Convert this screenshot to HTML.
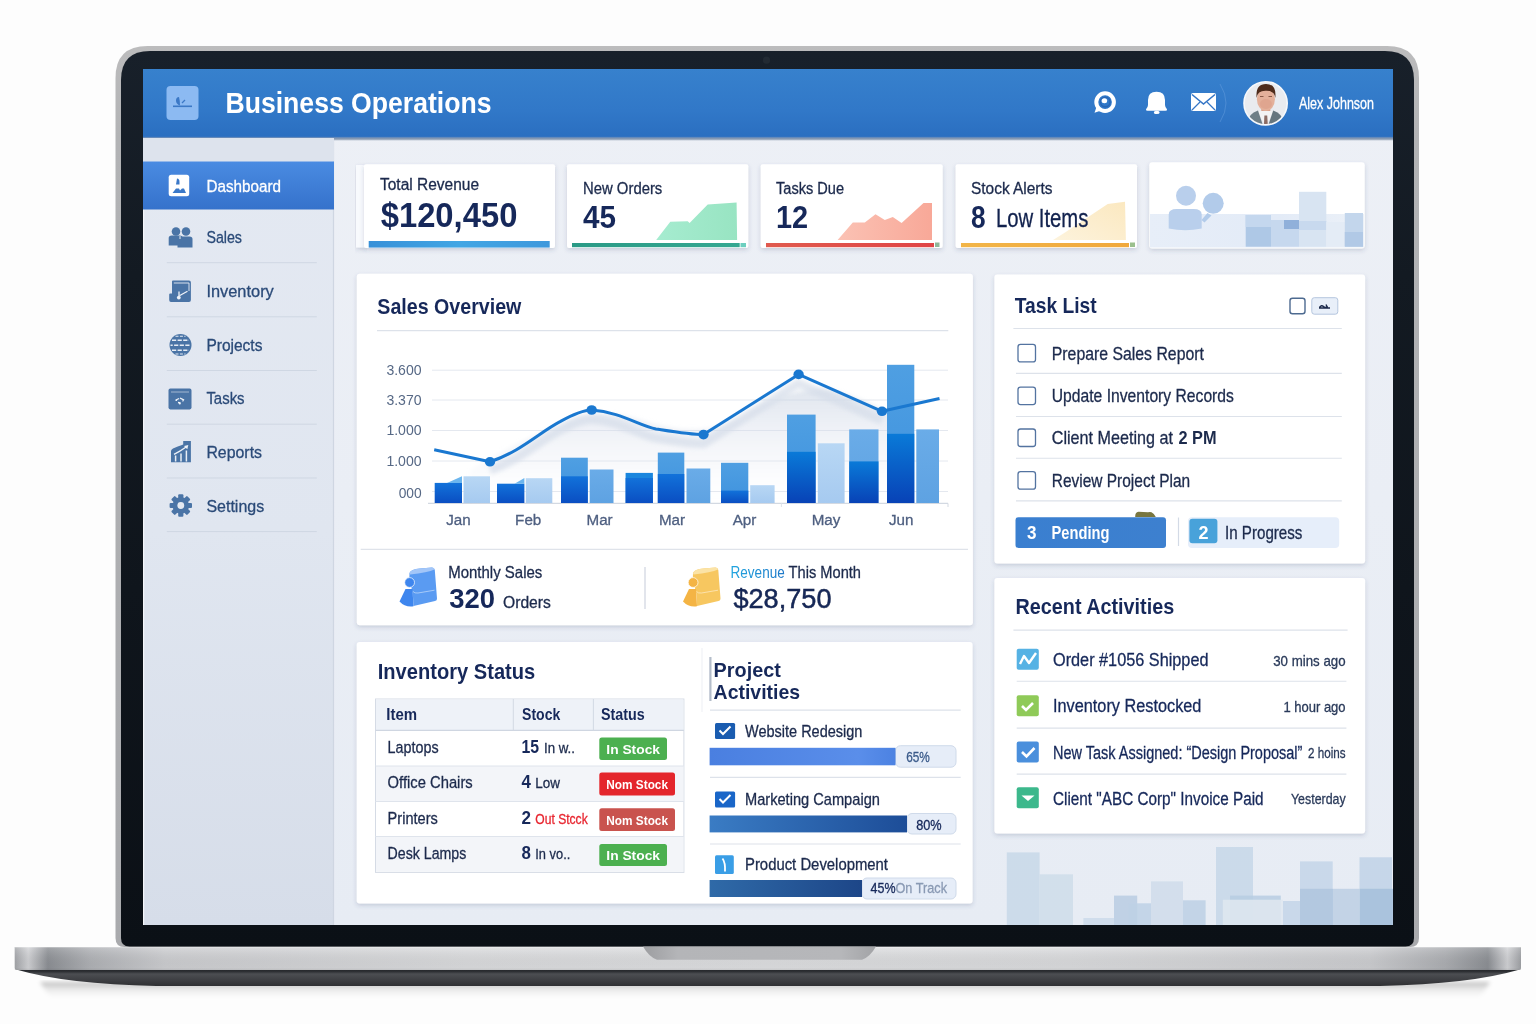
<!DOCTYPE html>
<html><head><meta charset="utf-8"><title>Business Operations</title>
<style>
html,body{margin:0;padding:0;background:#fdfdfd;}
body{width:1536px;height:1024px;overflow:hidden;}
svg text{font-family:"Liberation Sans",sans-serif;}
</style></head>
<body>
<svg width="1536" height="1024" viewBox="0 0 1536 1024" style="display:block;will-change:transform">
<rect width="1536" height="1024" fill="#fdfdfd"/>
<defs>
<linearGradient id="gHeader" x1="0" y1="0" x2="0" y2="1">
  <stop offset="0" stop-color="#3781cd"/><stop offset="0.6" stop-color="#3178c8"/><stop offset="1" stop-color="#2a6ec0"/>
</linearGradient>
<linearGradient id="gActive" x1="0" y1="0" x2="0" y2="1">
  <stop offset="0" stop-color="#4a8be2"/><stop offset="1" stop-color="#3572cb"/>
</linearGradient>
<linearGradient id="gSide" x1="0" y1="0" x2="0" y2="1">
  <stop offset="0" stop-color="#e4e9f2"/><stop offset="0.5" stop-color="#e0e6f0"/><stop offset="1" stop-color="#d6dde9"/>
</linearGradient>
<linearGradient id="gMain" x1="0" y1="0" x2="0" y2="1">
  <stop offset="0" stop-color="#edf0f6"/><stop offset="1" stop-color="#e7ecf4"/>
</linearGradient>
<linearGradient id="gBase" x1="0" y1="0" x2="1" y2="0">
  <stop offset="0" stop-color="#a4a6aa"/><stop offset="0.009" stop-color="#d2d3d6"/><stop offset="0.022" stop-color="#8d9095"/>
  <stop offset="0.05" stop-color="#b0b2b6"/><stop offset="0.1" stop-color="#cdced1"/><stop offset="0.3" stop-color="#dbdcde"/><stop offset="0.5" stop-color="#dedfe1"/>
  <stop offset="0.7" stop-color="#dbdcde"/><stop offset="0.9" stop-color="#cdced1"/><stop offset="0.95" stop-color="#adafb3"/><stop offset="0.978" stop-color="#8d9095"/>
  <stop offset="0.991" stop-color="#d2d3d6"/><stop offset="1" stop-color="#a0a2a6"/>
</linearGradient>
<linearGradient id="gBaseV" x1="0" y1="0" x2="0" y2="1">
  <stop offset="0" stop-color="#ffffff" stop-opacity="0.5"/><stop offset="0.06" stop-color="#ffffff" stop-opacity="0.15"/><stop offset="0.9" stop-color="#000" stop-opacity="0.04"/><stop offset="1" stop-color="#000" stop-opacity="0.1"/>
</linearGradient>
<linearGradient id="gBottom" x1="0" y1="0" x2="0" y2="1">
  <stop offset="0" stop-color="#26282c"/><stop offset="0.1" stop-color="#2e3034"/><stop offset="0.25" stop-color="#4c4e52"/><stop offset="1" stop-color="#2f3033"/>
</linearGradient>
<linearGradient id="gNotch" x1="0" y1="0" x2="1" y2="0">
  <stop offset="0" stop-color="#9c9da0"/><stop offset="0.15" stop-color="#b4b5b8"/><stop offset="0.85" stop-color="#b6b7ba"/><stop offset="1" stop-color="#a2a3a6"/>
</linearGradient>
<linearGradient id="gBezel" x1="0" y1="0" x2="0" y2="1">
  <stop offset="0" stop-color="#18202a"/><stop offset="0.25" stop-color="#131a22"/><stop offset="0.6" stop-color="#0f151c"/><stop offset="1" stop-color="#0b1016"/>
</linearGradient>
<linearGradient id="gRim" x1="0" y1="0" x2="0" y2="1">
  <stop offset="0" stop-color="#bcbcbd"/><stop offset="0.1" stop-color="#b2b3b5"/><stop offset="1" stop-color="#a9aaad"/>
</linearGradient>
<radialGradient id="gShadow" cx="0.5" cy="0.5" r="0.5">
  <stop offset="0" stop-color="#000" stop-opacity="0.25"/><stop offset="1" stop-color="#000" stop-opacity="0"/>
</radialGradient>
<filter id="fCard" x="-5%" y="-5%" width="110%" height="115%">
  <feDropShadow dx="0" dy="2" stdDeviation="2" flood-color="#30456e" flood-opacity="0.2"/>
</filter>
<filter id="fBlur05"><feGaussianBlur stdDeviation="0.6"/></filter>
<filter id="fBlur2"><feGaussianBlur stdDeviation="2"/></filter>
<filter id="fBlur4"><feGaussianBlur stdDeviation="4"/></filter>
</defs>
<defs><linearGradient id="gShd" x1="0" y1="0" x2="0" y2="1"><stop offset="0" stop-color="#000" stop-opacity="0.26"/><stop offset="0.45" stop-color="#000" stop-opacity="0.08"/><stop offset="1" stop-color="#000" stop-opacity="0"/></linearGradient></defs>
<path d="M40 982 H1490 L1480 997 H50 Z" fill="url(#gShd)" filter="url(#fBlur2)"/>
<path d="M115.5 938 V78 Q115.5 46 147.5 46 H1387 Q1419 46 1419 78 V938 Q1419 947 1410 947 H124.5 Q115.5 947 115.5 938 Z" fill="url(#gRim)"/>
<path d="M121 938 V80 Q121 51 150 51 H1385 Q1414 51 1414 80 V938 Q1414 946.5 1405.5 946.5 H129.5 Q121 946.5 121 938 Z" fill="url(#gBezel)"/>
<circle cx="766.5" cy="60.2" r="3.6" fill="#222a33"/>
<path d="M14.7 947 H1521 V968 Q1521 970 1519 970 H16.7 Q14.7 970 14.7 968 Z" fill="url(#gBase)"/>
<path d="M14.7 947 H1521 V970 H14.7 Z" fill="url(#gBaseV)"/>
<path d="M18 970 H1518 Q1470 984 1380 986 H156 Q66 984 18 970 Z" fill="url(#gBottom)"/>
<path d="M643 946.5 H876 Q870 957 862 959.8 H657 Q649 957 643 946.5 Z" fill="url(#gNotch)"/>
<svg x="143" y="69" width="1250" height="856" viewBox="143 69 1250 856" overflow="hidden">
<rect x="143" y="69" width="1250" height="856" fill="url(#gMain)"/>
<rect x="143" y="138" width="191" height="787" fill="url(#gSide)"/>
<line x1="333.5" y1="138" x2="333.5" y2="925" stroke="#cfd6e2" stroke-width="1.2"/>
<line x1="143.6" y1="138" x2="143.6" y2="925" stroke="#f4f6fa" stroke-width="1.2"/>
<rect x="143" y="69" width="1250" height="69" fill="url(#gHeader)"/>
<defs><linearGradient id="gHB" x1="0" y1="0" x2="0" y2="1"><stop offset="0" stop-color="#4f80bf"/><stop offset="0.5" stop-color="#8799b2"/><stop offset="1" stop-color="#b8c2d0"/></linearGradient></defs>
<rect x="143" y="136.8" width="1250" height="3.6" fill="url(#gHB)"/>
<rect x="166.5" y="86" width="32" height="34" rx="4" fill="#8cbaf2"/>
<path d="M179 97 q-3 0 -3 3.5 q0 3.5 4 5 q0 -5 -1 -8.5 Z" fill="#3b78c6"/>
<path d="M182 103 l3 -3" stroke="#3b78c6" stroke-width="1.2"/>
<rect x="173" y="105.5" width="19" height="1.6" fill="#3b78c6"/>
<text x="225.5" y="113" font-size="29" font-weight="bold" fill="#ffffff" textLength="266" lengthAdjust="spacingAndGlyphs">Business Operations</text>
<circle cx="1105.1" cy="102.1" r="8.8" fill="none" stroke="#fff" stroke-width="4"/>
<path d="M1097 105.5 L1094.5 112.8 L1102 110.2 Z" fill="#fff"/>
<circle cx="1105.3" cy="102" r="4.8" fill="none" stroke="#2a66b4" stroke-width="1.4"/>
<ellipse cx="1104.4" cy="100.7" rx="2.8" ry="2.5" fill="#fff"/>
<path d="M1148 100 Q1148 91.7 1156.5 91.7 Q1165 91.7 1165 100 V105 Q1165 107 1167 109.3 Q1167.3 110.8 1165.5 110.8 H1147.5 Q1145.8 110.8 1146 109.3 Q1148 107 1148 105 Z" fill="#fff"/>
<ellipse cx="1156.8" cy="112.4" rx="2.9" ry="1.7" fill="#fff"/>
<rect x="1191" y="93" width="25" height="18" rx="2" fill="#fff"/>
<path d="M1192 94.5 L1203.5 104 L1215 94.5" fill="none" stroke="#3576c6" stroke-width="1.6"/>
<path d="M1192 110 L1200 102 M1215 110 L1207 102" fill="none" stroke="#3576c6" stroke-width="1.2"/>
<path d="M1220 84 Q1232 103 1220 122" fill="none" stroke="#6aa0e0" stroke-width="0.8" opacity="0.6"/>
<circle cx="1265.6" cy="103.3" r="21.6" fill="#e9ebef" stroke="#f6f8fb" stroke-width="1.6"/>
<clipPath id="cAv"><circle cx="1265.6" cy="103.3" r="20.8"/></clipPath>
<g clip-path="url(#cAv)"><rect x="1261.3" y="105" width="9" height="10" fill="#d8a088"/><path d="M1257 111 L1265.6 126 L1274.2 111 Z" fill="#f3f3f3"/><path d="M1246 127 Q1247 114 1258 110.5 L1263.5 127 Z" fill="#6e7e86"/><path d="M1285 127 Q1284 114 1273.2 110.5 L1267.7 127 Z" fill="#66767e"/><path d="M1264.4 115.5 L1267.2 115.5 L1268 127 L1263.8 127 Z" fill="#8c6c64"/><ellipse cx="1265.9" cy="99.3" rx="9" ry="11.6" fill="#e4b09a"/><ellipse cx="1265.9" cy="104" rx="6" ry="5" fill="#dc9e88" opacity="0.6"/><path d="M1256.6 98 Q1255.2 84 1266 84 Q1276.8 84 1275.3 98 Q1274.5 90.5 1266 90.8 Q1257.5 90.5 1256.6 98 Z" fill="#4e2c1c"/><path d="M1260 96.5 h3.5 M1268.5 96.5 h3.5" stroke="#8a5a48" stroke-width="1"/></g>
<text x="1299" y="109" font-size="16" fill="#ffffff" textLength="75" lengthAdjust="spacingAndGlyphs" stroke="#ffffff" stroke-width="0.3">Alex Johnson</text>
<rect x="143" y="138" width="191" height="23.5" fill="#dde3ed"/>
<rect x="143" y="161.5" width="191" height="48" fill="url(#gActive)"/>
<rect x="168.7" y="174.8" width="20.5" height="21.5" rx="2.5" fill="#ffffff"/>
<path d="M177 178.5 q2.5 0 2.5 3.5 l0 2.5 h-3.5 Z" fill="#3a78c8"/>
<path d="M172.5 193 l3.5 -4.5 h3 l1 2 l2 -2 h2 l2 4.5 Z" fill="#3a78c8"/>
<text x="206.4" y="191.8" font-size="17.4" fill="#ffffff" textLength="74.6" lengthAdjust="spacingAndGlyphs" stroke="#ffffff" stroke-width="0.3">Dashboard</text>
<text x="206.4" y="243.0" font-size="17.2" fill="#2a4a78" textLength="35.6" lengthAdjust="spacingAndGlyphs" stroke="#2a4a78" stroke-width="0.3">Sales</text>
<text x="206.4" y="297.2" font-size="17.2" fill="#2a4a78" textLength="67.4" lengthAdjust="spacingAndGlyphs" stroke="#2a4a78" stroke-width="0.3">Inventory</text>
<text x="206.4" y="351.1" font-size="17.2" fill="#2a4a78" textLength="56.0" lengthAdjust="spacingAndGlyphs" stroke="#2a4a78" stroke-width="0.3">Projects</text>
<text x="206.4" y="404.4" font-size="17.2" fill="#2a4a78" textLength="38.2" lengthAdjust="spacingAndGlyphs" stroke="#2a4a78" stroke-width="0.3">Tasks</text>
<text x="206.4" y="458.0" font-size="17.2" fill="#2a4a78" textLength="55.6" lengthAdjust="spacingAndGlyphs" stroke="#2a4a78" stroke-width="0.3">Reports</text>
<text x="206.4" y="511.8" font-size="17.2" fill="#2a4a78" textLength="57.8" lengthAdjust="spacingAndGlyphs" stroke="#2a4a78" stroke-width="0.3">Settings</text>
<line x1="166.8" y1="262.7" x2="316.8" y2="262.7" stroke="#cfd7e3" stroke-width="1"/>
<line x1="166.8" y1="316.8" x2="316.8" y2="316.8" stroke="#cfd7e3" stroke-width="1"/>
<line x1="166.8" y1="370.5" x2="316.8" y2="370.5" stroke="#cfd7e3" stroke-width="1"/>
<line x1="166.8" y1="424.2" x2="316.8" y2="424.2" stroke="#cfd7e3" stroke-width="1"/>
<line x1="166.8" y1="478.0" x2="316.8" y2="478.0" stroke="#cfd7e3" stroke-width="1"/>
<line x1="166.8" y1="531.6" x2="316.8" y2="531.6" stroke="#cfd7e3" stroke-width="1"/>
<g fill="#4a74a6"><circle cx="176" cy="231.5" r="4.3"/><circle cx="186" cy="231.5" r="4.3"/><path d="M168.7 238 q0 -2.5 3 -2.5 h8 q3 0 3 2.5 v7.5 h-14 Z"/><path d="M177.5 239 q0 -2.5 3 -2.5 h9 q3 0 3 2.5 v8.5 h-15 Z"/></g>
<path d="M180 236 v3" stroke="#e4e9f1" stroke-width="1"/>
<path d="M173 280.4 H189 Q190.9 280.4 190.9 282.4 V300 Q190.9 302 189 302 H171 Q169.2 302 169.2 300 V294.5 Q169.2 293.5 170.2 293.5 H172 V281.4 Q172 280.4 173 280.4 Z" fill="#4a74a6"/>
<path d="M173.8 283 H189 V291" fill="none" stroke="#e6ecf4" stroke-width="0.9"/>
<path d="M179 291.5 V296 M179.8 295.5 L187.5 291.2" fill="none" stroke="#eef2f8" stroke-width="1.3"/>
<circle cx="178.8" cy="297.6" r="1.9" fill="#eef2f8"/>
<circle cx="180.5" cy="345" r="11" fill="#4a74a6"/>
<g stroke="#e6ecf4" stroke-width="1.5" fill="none"><path d="M172 340.3 H189" stroke-dasharray="4.2 1.4"/><path d="M170.5 345.2 H190.5" stroke-dasharray="4.2 1.4" stroke-dashoffset="2"/><path d="M172 350.2 H189" stroke-dasharray="4.2 1.4"/><path d="M175.5 336.2 H185.5" stroke-dasharray="3 1.4" stroke-width="1.1"/><path d="M175.5 354 H185.5" stroke-dasharray="3 1.4" stroke-width="1.1"/></g>
<rect x="168.5" y="388.6" width="23" height="20.8" rx="1.8" fill="#4a74a6"/>
<path d="M171 392 h18" stroke="#dfe6f0" stroke-width="0.6"/>
<path d="M176 400 l3 -1.5 M180 398 l3.5 1.8 l-1 1.5 M178 402.5 l2.5 0.3" stroke="#eef2f8" stroke-width="1.3" fill="none"/>
<circle cx="176.3" cy="400.2" r="0.9" fill="#eef2f8"/><circle cx="179.8" cy="403.6" r="1" fill="#eef2f8"/>
<path d="M171 462.3 V451 Q171 449.5 173 448.5 Q178 446 182 445 L183.2 444.5 V441.1 H190.9 V462.3 Z" fill="#4a74a6"/>
<path d="M175.6 455.5 V461.5 M181 453.5 V461.5 M186.4 450.5 V461.5" stroke="#e9eef5" stroke-width="1.5"/>
<path d="M174 454.3 Q180 451.5 186.5 446.8" fill="none" stroke="#eef2f8" stroke-width="1.4"/>
<path d="M184 446 L188.3 445 L187.3 449.2 Z" fill="#eef2f8"/>
<g fill="#4a74a6"><rect x="178.20" y="494.30" width="5.2" height="5" rx="1" transform="rotate(0 180.8 505.5)"/><rect x="178.20" y="494.30" width="5.2" height="5" rx="1" transform="rotate(45 180.8 505.5)"/><rect x="178.20" y="494.30" width="5.2" height="5" rx="1" transform="rotate(90 180.8 505.5)"/><rect x="178.20" y="494.30" width="5.2" height="5" rx="1" transform="rotate(135 180.8 505.5)"/><rect x="178.20" y="494.30" width="5.2" height="5" rx="1" transform="rotate(180 180.8 505.5)"/><rect x="178.20" y="494.30" width="5.2" height="5" rx="1" transform="rotate(225 180.8 505.5)"/><rect x="178.20" y="494.30" width="5.2" height="5" rx="1" transform="rotate(270 180.8 505.5)"/><rect x="178.20" y="494.30" width="5.2" height="5" rx="1" transform="rotate(315 180.8 505.5)"/><circle cx="180.8" cy="505.5" r="8.3"/></g>
<circle cx="180.8" cy="505.5" r="3.4" fill="#e4e9f1"/>
<defs>
<linearGradient id="gBlueBar" x1="0" y1="0" x2="1" y2="0"><stop offset="0" stop-color="#3790d8"/><stop offset="0.5" stop-color="#42a6e4"/><stop offset="1" stop-color="#3e98dc"/></linearGradient>
<linearGradient id="gTealBar" x1="0" y1="0" x2="1" y2="0"><stop offset="0" stop-color="#2a9a86"/><stop offset="1" stop-color="#35a892"/></linearGradient>
<linearGradient id="gRedBar" x1="0" y1="0" x2="1" y2="0"><stop offset="0" stop-color="#e05a4e"/><stop offset="1" stop-color="#e04446"/></linearGradient>
<linearGradient id="gYelBar" x1="0" y1="0" x2="1" y2="0"><stop offset="0" stop-color="#f2b548"/><stop offset="1" stop-color="#f0a83c"/></linearGradient>
<linearGradient id="gRedArea" x1="0" y1="0" x2="1" y2="0"><stop offset="0" stop-color="#fbc2b4"/><stop offset="1" stop-color="#f8a898"/></linearGradient>
<linearGradient id="gYelArea" x1="0" y1="1" x2="1" y2="0"><stop offset="0" stop-color="#fdf3dc"/><stop offset="1" stop-color="#fbe8c0"/></linearGradient>
<linearGradient id="gGrnArea" x1="0" y1="0" x2="1" y2="0"><stop offset="0" stop-color="#a6ecd0"/><stop offset="1" stop-color="#98e4c2"/></linearGradient>
</defs>
<rect x="356" y="165" width="10" height="82.5" fill="#f8fafd" filter="url(#fCard)"/>
<rect x="364" y="164.3" width="191" height="83.7" rx="2" fill="#ffffff" filter="url(#fCard)"/>
<rect x="567" y="164.3" width="181.29999999999995" height="83.7" rx="2" fill="#ffffff" filter="url(#fCard)"/>
<rect x="760.7" y="164.3" width="182.0" height="83.7" rx="2" fill="#ffffff" filter="url(#fCard)"/>
<rect x="955.6" y="164.3" width="181.39999999999998" height="83.7" rx="2" fill="#ffffff" filter="url(#fCard)"/>
<text x="380" y="190" font-size="16" fill="#1c2a4c" textLength="99" lengthAdjust="spacingAndGlyphs" stroke="#1c2a4c" stroke-width="0.3">Total Revenue</text>
<text x="380.7" y="227.2" font-size="34.5" font-weight="bold" fill="#16285a" textLength="136.7" lengthAdjust="spacingAndGlyphs">$120,450</text>
<rect x="368.7" y="241" width="181" height="6.6" fill="url(#gBlueBar)"/>
<path d="M656.2 239.9 L670.3 221.7 L687.7 221.2 L689.6 223.1 L707.7 204.4 L736.6 202.5 L737.1 239.9 Z" fill="url(#gGrnArea)"/>
<text x="583" y="193.7" font-size="16" fill="#1c2a4c" textLength="79.3" lengthAdjust="spacingAndGlyphs" stroke="#1c2a4c" stroke-width="0.3">New Orders</text>
<text x="583" y="227.6" font-size="31.5" font-weight="bold" fill="#16285a" textLength="33" lengthAdjust="spacingAndGlyphs">45</text>
<rect x="572" y="243" width="167.7" height="4.2" fill="url(#gTealBar)"/>
<rect x="740.5" y="243" width="5.5" height="4.2" fill="#6ccfbf"/>
<path d="M837.6 239.9 L852.8 222.5 L864.8 222.5 L875.5 214.3 L884.8 219.9 L892.8 216.9 L901.6 223.1 L923.5 203 L932 203 L932 239.9 Z" fill="url(#gRedArea)"/>
<text x="776" y="193.7" font-size="16" fill="#1c2a4c" textLength="68" lengthAdjust="spacingAndGlyphs" stroke="#1c2a4c" stroke-width="0.3">Tasks Due</text>
<text x="776" y="227.6" font-size="31.5" font-weight="bold" fill="#16285a" textLength="32.2" lengthAdjust="spacingAndGlyphs">12</text>
<rect x="766" y="243" width="168" height="4.2" fill="url(#gRedBar)"/>
<rect x="935" y="242.5" width="4.5" height="4.5" fill="#8fb89a"/>
<path d="M1053 239.9 L1065 232.4 L1107.7 203.9 L1125 201.7 L1125.9 239.9 Z" fill="url(#gYelArea)"/>
<text x="971" y="193.7" font-size="16" fill="#1c2a4c" textLength="81.5" lengthAdjust="spacingAndGlyphs" stroke="#1c2a4c" stroke-width="0.3">Stock Alerts</text>
<text x="971.1" y="227.6" font-size="31.3" font-weight="bold" fill="#16285a" textLength="14.6" lengthAdjust="spacingAndGlyphs">8</text>
<text x="995.9" y="227.2" font-size="25.5" fill="#12224e" textLength="92.5" lengthAdjust="spacingAndGlyphs" stroke="#12224e" stroke-width="0.3">Low Items</text>
<rect x="961" y="243" width="168" height="4.2" fill="url(#gYelBar)"/>
<rect x="1130" y="242.5" width="5" height="4.5" fill="#9bc08e"/>
<rect x="1149.3" y="162.3" width="215.4" height="86.1" rx="3" fill="#ffffff" filter="url(#fCard)"/>
<defs><linearGradient id="gC5" x1="0" y1="0" x2="1" y2="0"><stop offset="0" stop-color="#e7eef8"/><stop offset="0.6" stop-color="#e3ebf7"/><stop offset="1" stop-color="#ecf1f8"/></linearGradient></defs>
<rect x="1150" y="214" width="214" height="33.5" fill="url(#gC5)"/>
<g fill="#b9cfec"><circle cx="1186" cy="195.8" r="10"/><path d="M1168.7 214.5 q0 -5.5 8 -5.5 h17 q8 0 8 5.5 v14 q-16.5 3.5 -33 0 Z"/><circle cx="1213.2" cy="203.3" r="10.5" fill="#b2cbea"/><path d="M1201.5 220 l6 -7 l4 2.5 l-7 7 Z" fill="#b2cbea"/></g>
<g><rect x="1245.7" y="215" width="25.3" height="31.7" fill="#aec8e6"/><rect x="1245.7" y="215" width="25.3" height="12" fill="#c4d7ee"/><rect x="1271" y="220" width="28" height="26.7" fill="#c6d8ee"/><rect x="1284" y="220" width="15" height="9" fill="#90b0da"/><rect x="1299" y="191.8" width="27.3" height="54.9" fill="#d8e4f2"/><rect x="1299" y="221" width="27.3" height="9" fill="#c8d9ee"/><rect x="1326.3" y="222" width="18.5" height="24.7" fill="#e4ecf6"/><rect x="1344.8" y="213" width="18.2" height="33.7" fill="#c3d6ec"/><rect x="1344.8" y="232" width="18.2" height="14.7" fill="#b1c9e6"/></g>
<rect x="356.8" y="273.7" width="616.1" height="351.5" rx="3" fill="#ffffff" filter="url(#fCard)"/>
<text x="377.3" y="313.7" font-size="22.2" font-weight="bold" fill="#16285a" textLength="144.1" lengthAdjust="spacingAndGlyphs">Sales Overview</text>
<line x1="377" y1="330.6" x2="948.3" y2="330.6" stroke="#dde2ea" stroke-width="1.2"/>
<line x1="432" y1="370.2" x2="948" y2="370.2" stroke="#e4e8ef" stroke-width="1"/>
<line x1="432" y1="400.0" x2="948" y2="400.0" stroke="#e4e8ef" stroke-width="1"/>
<line x1="432" y1="430.5" x2="948" y2="430.5" stroke="#e4e8ef" stroke-width="1"/>
<line x1="432" y1="461.0" x2="948" y2="461.0" stroke="#e4e8ef" stroke-width="1"/>
<line x1="432" y1="491.5" x2="948" y2="491.5" stroke="#e4e8ef" stroke-width="1"/>
<line x1="428" y1="503.4" x2="948" y2="503.4" stroke="#d3d9e2" stroke-width="1.2"/>
<line x1="948" y1="503.4" x2="948" y2="507" stroke="#d3d9e2" stroke-width="1"/>
<line x1="781.4" y1="503.4" x2="781.4" y2="507" stroke="#dfe3ea" stroke-width="1"/>
<text x="386.4" y="375.2" font-size="14.5" fill="#566885" textLength="35.2" lengthAdjust="spacingAndGlyphs">3.600</text>
<text x="386.4" y="404.8" font-size="14.5" fill="#566885" textLength="35.2" lengthAdjust="spacingAndGlyphs">3.370</text>
<text x="386.4" y="435.0" font-size="14.5" fill="#566885" textLength="35.2" lengthAdjust="spacingAndGlyphs">1.000</text>
<text x="386.4" y="465.7" font-size="14.5" fill="#566885" textLength="35.2" lengthAdjust="spacingAndGlyphs">1.000</text>
<text x="398.7" y="498.3" font-size="14.5" fill="#566885" textLength="23" lengthAdjust="spacingAndGlyphs">000</text>
<defs>
<linearGradient id="gDark" x1="0" y1="0" x2="0" y2="1"><stop offset="0" stop-color="#1272da"/><stop offset="1" stop-color="#0a4ec2"/></linearGradient>
<linearGradient id="gDark2" x1="0" y1="0" x2="0" y2="1"><stop offset="0" stop-color="#0a7ad8"/><stop offset="1" stop-color="#0842b6"/></linearGradient>
<linearGradient id="gMid" x1="0" y1="0" x2="0" y2="1"><stop offset="0" stop-color="#4f9fe2"/><stop offset="1" stop-color="#3e92de"/></linearGradient>
<linearGradient id="gLight" x1="0" y1="0" x2="0" y2="1"><stop offset="0" stop-color="#b8d7f4"/><stop offset="1" stop-color="#a6caf0"/></linearGradient>
<linearGradient id="gMidL" x1="0" y1="0" x2="0" y2="1"><stop offset="0" stop-color="#6aace8"/><stop offset="1" stop-color="#5ea2e2"/></linearGradient>
<linearGradient id="gLineShade" x1="0" y1="0" x2="0" y2="1"><stop offset="0" stop-color="#c6d0e0" stop-opacity="0.55"/><stop offset="1" stop-color="#e8edf5" stop-opacity="0"/></linearGradient>
</defs>
<path d="M470 470 Q520 440 560 425 Q590 405 640 420 Q700 440 740 418 Q790 385 830 390 Q870 400 900 420 L900 503 L470 503 Z" fill="url(#gLineShade)" filter="url(#fBlur2)"/>
<rect x="434.7" y="482.9" width="27.30000000000001" height="20.100000000000023" fill="url(#gDark)"/>
<rect x="463.5" y="476.3" width="26.5" height="26.69999999999999" fill="url(#gLight)"/>
<rect x="497.0" y="483.7" width="27.399999999999977" height="19.30000000000001" fill="url(#gDark)"/>
<rect x="525.8" y="478.2" width="26.5" height="24.80000000000001" fill="url(#gLight)"/>
<rect x="561.0" y="457.7" width="26.799999999999955" height="45.30000000000001" fill="url(#gMid)"/>
<rect x="561.0" y="476.3" width="26.799999999999955" height="26.69999999999999" fill="url(#gDark)"/>
<rect x="589.7" y="469.5" width="23.799999999999955" height="33.5" fill="url(#gMidL)"/>
<rect x="625.6" y="472.9" width="27.299999999999955" height="30.100000000000023" fill="#1a86de"/>
<rect x="625.6" y="478.0" width="27.299999999999955" height="25.0" fill="url(#gDark)"/>
<rect x="657.8" y="452.6" width="26.5" height="50.39999999999998" fill="url(#gMid)"/>
<rect x="657.8" y="474.0" width="26.5" height="29.0" fill="url(#gDark)"/>
<rect x="686.5" y="468.5" width="23.799999999999955" height="34.5" fill="url(#gMidL)"/>
<rect x="721.0" y="462.8" width="27.299999999999955" height="40.19999999999999" fill="url(#gMid)"/>
<rect x="721.0" y="490.6" width="27.299999999999955" height="12.399999999999977" fill="url(#gDark)"/>
<rect x="750.2" y="485.2" width="24.399999999999977" height="17.80000000000001" fill="url(#gLight)"/>
<rect x="787.0" y="414.6" width="28.600000000000023" height="88.39999999999998" fill="url(#gMid)"/>
<rect x="787.0" y="451.8" width="28.600000000000023" height="51.19999999999999" fill="url(#gDark2)"/>
<rect x="817.8" y="443.3" width="26.800000000000068" height="59.69999999999999" fill="url(#gLight)"/>
<rect x="849.2" y="429.4" width="29.299999999999955" height="73.60000000000002" fill="url(#gMidL)"/>
<rect x="849.2" y="461.4" width="29.299999999999955" height="41.60000000000002" fill="url(#gDark2)"/>
<rect x="887.0" y="364.8" width="27.299999999999955" height="138.2" fill="url(#gMid)"/>
<rect x="887.0" y="433.8" width="27.299999999999955" height="69.19999999999999" fill="url(#gDark2)"/>
<rect x="916.3" y="429.4" width="22.700000000000045" height="73.60000000000002" fill="url(#gMidL)"/>
<path d="M447 482.9 L462 476.2 L462 482.9 Z" fill="#6cb6ee"/>
<path d="M514.6 483.7 L524.4 478.1 L524.4 483.7 Z" fill="#6cb6ee"/>
<path d="M490 470 C520 460 540 440 560.5 430 C572 424 582 419 591.7 419 C620 421 640 435 656 438 C675 441 690 443.6 703.5 443.6 L798.6 383.4 L882 420.3" fill="none" stroke="#d5dde9" stroke-width="9" stroke-linejoin="round" opacity="0.7" filter="url(#fBlur2)"/>
<path d="M434.2 449.8 L490 461.8 C520 452 540 432 560.5 421.4 C572 415 582 410 591.7 410 C620 412 640 426 656 429 C675 432 690 434.6 703.5 434.6 L798.6 374.4 L882 411.3 L939.5 398.5" fill="none" stroke="#1a78d0" stroke-width="3" stroke-linejoin="round"/>
<ellipse cx="490" cy="461.8" rx="5.2" ry="4.8" fill="#1a78d0"/>
<ellipse cx="591.7" cy="410" rx="5.2" ry="4.8" fill="#1a78d0"/>
<ellipse cx="703.5" cy="434.6" rx="5.2" ry="4.8" fill="#1a78d0"/>
<ellipse cx="798.6" cy="374.4" rx="5.2" ry="4.8" fill="#1a78d0"/>
<ellipse cx="882" cy="411.3" rx="5.2" ry="4.8" fill="#1a78d0"/>
<text x="458.5" y="525" font-size="15.2" text-anchor="middle" fill="#4e5f80" stroke="#4e5f80" stroke-width="0.3">Jan</text>
<text x="528.2" y="525" font-size="15.2" text-anchor="middle" fill="#4e5f80" stroke="#4e5f80" stroke-width="0.3">Feb</text>
<text x="599.6" y="525" font-size="15.2" text-anchor="middle" fill="#4e5f80" stroke="#4e5f80" stroke-width="0.3">Mar</text>
<text x="672" y="525" font-size="15.2" text-anchor="middle" fill="#4e5f80" stroke="#4e5f80" stroke-width="0.3">Mar</text>
<text x="744.5" y="525" font-size="15.2" text-anchor="middle" fill="#4e5f80" stroke="#4e5f80" stroke-width="0.3">Apr</text>
<text x="826" y="525" font-size="15.2" text-anchor="middle" fill="#4e5f80" stroke="#4e5f80" stroke-width="0.3">May</text>
<text x="901.2" y="525" font-size="15.2" text-anchor="middle" fill="#4e5f80" stroke="#4e5f80" stroke-width="0.3">Jun</text>
<line x1="360.7" y1="549.4" x2="968" y2="549.4" stroke="#dfe3ea" stroke-width="1.2"/>
<g transform="translate(0 0)"><path d="M409.5 573 Q411 569 420 568.5 L432 567.5 Q434.5 567.5 434.8 570 L437 598.5 Q437.2 600.5 435 601 L413.5 606 L412.8 593 L409.3 580 Z" fill="#5a9bf2"/><path d="M409.5 573 Q411 569 420 568.5 L432 567.5 Q434.5 567.5 434.5 569.5 Q428 572.5 410 574.5 Z" fill="#a3c6f8"/><path d="M405.5 589 L412.5 589 L413.5 606.3 Q405 607.5 399.5 601.5 Z" fill="#3e86ee"/><circle cx="409.6" cy="582.5" r="4.9" fill="#3e86ee" stroke="#ffffff" stroke-width="0.7"/><path d="M413 591.5 Q414.5 593.5 418 593 L434.5 590.2" fill="none" stroke="#c6dcfa" stroke-width="0.7"/></g>
<text x="448.2" y="578" font-size="16.5" fill="#1c2a4c" textLength="94.1" lengthAdjust="spacingAndGlyphs" stroke="#1c2a4c" stroke-width="0.3">Monthly Sales</text>
<text x="449.2" y="608" font-size="28" font-weight="bold" fill="#16285a" textLength="45.8" lengthAdjust="spacingAndGlyphs">320</text>
<text x="503" y="608" font-size="16.5" fill="#1c2a4c" textLength="47.9" lengthAdjust="spacingAndGlyphs" stroke="#1c2a4c" stroke-width="0.3">Orders</text>
<line x1="645" y1="567" x2="645" y2="609" stroke="#d8dde6" stroke-width="1.5"/>
<g transform="translate(283.5 0)"><path d="M409.5 573 Q411 569 420 568.5 L432 567.5 Q434.5 567.5 434.8 570 L437 598.5 Q437.2 600.5 435 601 L413.5 606 L412.8 593 L409.3 580 Z" fill="#f7c760"/><path d="M409.5 573 Q411 569 420 568.5 L432 567.5 Q434.5 567.5 434.5 569.5 Q428 572.5 410 574.5 Z" fill="#fbe3a6"/><path d="M405.5 589 L412.5 589 L413.5 606.3 Q405 607.5 399.5 601.5 Z" fill="#f4b444"/><circle cx="409.6" cy="582.5" r="4.9" fill="#f4b444" stroke="#ffffff" stroke-width="0.7"/><path d="M413 591.5 Q414.5 593.5 418 593 L434.5 590.2" fill="none" stroke="#fdeccc" stroke-width="0.7"/></g>
<defs><linearGradient id="gRev" x1="0" y1="0" x2="1" y2="0"><stop offset="0" stop-color="#22a6e0"/><stop offset="1" stop-color="#1e78c8"/></linearGradient></defs>
<text x="730.6" y="578" font-size="16.5" fill="url(#gRev)" textLength="54.1" lengthAdjust="spacingAndGlyphs">Revenue</text>
<text x="788.6" y="578" font-size="16.5" fill="#1c2a4c" textLength="72.4" lengthAdjust="spacingAndGlyphs" stroke="#1c2a4c" stroke-width="0.3">This Month</text>
<text x="733.4" y="607.6" font-size="28.5" fill="#16285a" textLength="98.1" lengthAdjust="spacingAndGlyphs" stroke="#14234a" stroke-width="0.5">$28,750</text>
<rect x="994.4" y="274.6" width="370.7" height="289" rx="3" fill="#ffffff" filter="url(#fCard)"/>
<text x="1014.7" y="312.7" font-size="22.2" font-weight="bold" fill="#16285a" textLength="82" lengthAdjust="spacingAndGlyphs">Task List</text>
<rect x="1290" y="298.3" width="15" height="15.5" rx="2.5" fill="#ffffff" stroke="#4d6a90" stroke-width="1.4"/>
<rect x="1311.8" y="297.7" width="26" height="16.5" rx="2.5" fill="#e8eff9" stroke="#b5c6de" stroke-width="1"/>
<path d="M1319.5 307.5 q2 -3 4 -1 q2 2 4 -0.5 M1326 304.5 l1.5 3 M1319 308 h11" fill="none" stroke="#1c2a4c" stroke-width="1.4"/>
<line x1="1013.4" y1="328.5" x2="1341.8" y2="328.5" stroke="#dde2ea" stroke-width="1.2"/>
<rect x="1018" y="344.4" width="17.5" height="17.5" rx="2.5" fill="#ffffff" stroke="#5373a0" stroke-width="1.3"/>
<text x="1051.8" y="359.7" font-size="17.7" fill="#1c2a4c" textLength="152.1" lengthAdjust="spacingAndGlyphs" stroke="#1c2a4c" stroke-width="0.3">Prepare Sales Report</text>
<rect x="1018" y="387.09999999999997" width="17.5" height="17.5" rx="2.5" fill="#ffffff" stroke="#5373a0" stroke-width="1.3"/>
<text x="1051.8" y="402.1" font-size="17.7" fill="#1c2a4c" textLength="182.1" lengthAdjust="spacingAndGlyphs" stroke="#1c2a4c" stroke-width="0.3">Update Inventory Records</text>
<rect x="1018" y="429.0" width="17.5" height="17.5" rx="2.5" fill="#ffffff" stroke="#5373a0" stroke-width="1.3"/>
<rect x="1018" y="471.7" width="17.5" height="17.5" rx="2.5" fill="#ffffff" stroke="#5373a0" stroke-width="1.3"/>
<text x="1051.8" y="487.0" font-size="17.7" fill="#1c2a4c" textLength="138.4" lengthAdjust="spacingAndGlyphs" stroke="#1c2a4c" stroke-width="0.3">Review Project Plan</text>
<text x="1051.8" y="444.3" font-size="17.7" fill="#1c2a4c" textLength="121.1" lengthAdjust="spacingAndGlyphs" stroke="#1c2a4c" stroke-width="0.3">Client Meeting at</text>
<text x="1178.5" y="444.3" font-size="17.7" font-weight="bold" fill="#1c2a4c" textLength="38.1" lengthAdjust="spacingAndGlyphs">2 PM</text>
<line x1="1016" y1="373.4" x2="1341.8" y2="373.4" stroke="#dde2ea" stroke-width="1.1"/>
<line x1="1016" y1="416.5" x2="1341.8" y2="416.5" stroke="#dde2ea" stroke-width="1.1"/>
<line x1="1016" y1="458.2" x2="1341.8" y2="458.2" stroke="#dde2ea" stroke-width="1.1"/>
<line x1="1016" y1="500.9" x2="1341.8" y2="500.9" stroke="#dde2ea" stroke-width="1.1"/>
<path d="M1135.2 517 Q1135 512 1138.5 511.8 L1148 512.3 Q1150 511.7 1151.5 512.3 Q1154 513.5 1155.8 517 Z" fill="#78763f"/>
<defs><linearGradient id="gPend" x1="0" y1="0" x2="1" y2="0"><stop offset="0" stop-color="#3a7fd0"/><stop offset="1" stop-color="#3d80cf"/></linearGradient></defs>
<rect x="1015.5" y="517.2" width="150.5" height="30.7" rx="3" fill="url(#gPend)"/>
<text x="1027" y="538.7" font-size="18" font-weight="bold" fill="#ffffff" textLength="9.5" lengthAdjust="spacingAndGlyphs">3</text>
<text x="1051.5" y="538.7" font-size="17.7" font-weight="bold" fill="#ffffff" textLength="57.9" lengthAdjust="spacingAndGlyphs">Pending</text>
<line x1="1178.5" y1="517.5" x2="1178.5" y2="546" stroke="#d3dae6" stroke-width="1.2"/>
<rect x="1188" y="517.2" width="151.2" height="30.7" rx="4" fill="#e6eefa"/>
<rect x="1189.4" y="518.7" width="28" height="24.6" rx="3" fill="#48a2da"/>
<text x="1203.4" y="538.7" font-size="18" font-weight="bold" text-anchor="middle" fill="#ffffff">2</text>
<text x="1225" y="538.7" font-size="17.7" fill="#1c2a4c" textLength="77.4" lengthAdjust="spacingAndGlyphs" stroke="#1c2a4c" stroke-width="0.3">In Progress</text>
<rect x="994.4" y="578.1" width="370.7" height="255.4" rx="3" fill="#ffffff" filter="url(#fCard)"/>
<text x="1015.5" y="614.4" font-size="22.2" font-weight="bold" fill="#16285a" textLength="158.7" lengthAdjust="spacingAndGlyphs">Recent Activities</text>
<line x1="1013.4" y1="630.2" x2="1347.6" y2="630.2" stroke="#dde2ea" stroke-width="1.2"/>
<rect x="1016.7" y="648.7" width="22.1" height="21" rx="2" fill="#56b2e4"/>
<text x="1053" y="666.0" font-size="18.8" fill="#16285a" textLength="155.5" lengthAdjust="spacingAndGlyphs" stroke="#16285a" stroke-width="0.3">Order #1056 Shipped</text>
<text x="1273.1999999999998" y="665.5" font-size="14.5" fill="#2a3a5a" textLength="72.4" lengthAdjust="spacingAndGlyphs" stroke="#2a3a5a" stroke-width="0.3">30 mins ago</text>
<rect x="1016.7" y="695.2" width="22.1" height="21" rx="2" fill="#8fca58"/>
<text x="1053" y="712.2" font-size="18.8" fill="#16285a" textLength="148.4" lengthAdjust="spacingAndGlyphs" stroke="#16285a" stroke-width="0.3">Inventory Restocked</text>
<text x="1283.3999999999999" y="711.7" font-size="14.5" fill="#2a3a5a" textLength="62.2" lengthAdjust="spacingAndGlyphs" stroke="#2a3a5a" stroke-width="0.3">1 hour ago</text>
<rect x="1016.7" y="741.6" width="22.1" height="21" rx="2" fill="#4a8fdc"/>
<text x="1053" y="758.6" font-size="18.8" fill="#16285a" textLength="249.4" lengthAdjust="spacingAndGlyphs" stroke="#16285a" stroke-width="0.3">New Task Assigned: “Design Proposal”</text>
<text x="1308.0" y="758.1" font-size="14.5" fill="#2a3a5a" textLength="37.6" lengthAdjust="spacingAndGlyphs" stroke="#2a3a5a" stroke-width="0.3">2 hoins</text>
<rect x="1016.7" y="787.3" width="22.1" height="21" rx="2" fill="#3cb88c"/>
<text x="1053" y="804.6" font-size="18.8" fill="#16285a" textLength="210.6" lengthAdjust="spacingAndGlyphs" stroke="#16285a" stroke-width="0.3">Client &quot;ABC Corp&quot; Invoice Paid</text>
<text x="1291.0" y="804.1" font-size="14.5" fill="#2a3a5a" textLength="54.6" lengthAdjust="spacingAndGlyphs" stroke="#2a3a5a" stroke-width="0.3">Yesterday</text>
<path d="M1020 664 l4 -8 l5 7 l7 -10" fill="none" stroke="#ffffff" stroke-width="2.4" stroke-linejoin="round"/>
<path d="M1022 706 l4 4 l7 -7" fill="none" stroke="#ffffff" stroke-width="2.6"/>
<path d="M1022 752 l4.5 4.5 l8 -8.5" fill="none" stroke="#ffffff" stroke-width="2.6"/>
<path d="M1021.5 795.5 h13 l-6.5 5.5 Z" fill="#ffffff"/>
<line x1="1016.7" y1="681.2" x2="1346.4" y2="681.2" stroke="#dde2ea" stroke-width="1.1"/>
<line x1="1016.7" y1="728.1" x2="1346.4" y2="728.1" stroke="#dde2ea" stroke-width="1.1"/>
<line x1="1016.7" y1="774.1" x2="1346.4" y2="774.1" stroke="#dde2ea" stroke-width="1.1"/>
<rect x="356.7" y="642.0" width="615.9" height="261.6" rx="3" fill="#ffffff" filter="url(#fCard)"/>
<text x="377.7" y="678.8" font-size="22.2" font-weight="bold" fill="#16285a" textLength="157.6" lengthAdjust="spacingAndGlyphs">Inventory Status</text>
<rect x="375.5" y="699" width="308.4" height="173.4" fill="#ffffff" stroke="#d5dbe5" stroke-width="1"/>
<rect x="376" y="699.5" width="307.4" height="31" fill="#eef2f8"/>
<rect x="376" y="766" width="307.4" height="35.5" fill="#f3f5f9"/>
<rect x="376" y="836.5" width="307.4" height="35.4" fill="#f3f5f9"/>
<line x1="375.5" y1="730.4" x2="683.9" y2="730.4" stroke="#cfd6e1" stroke-width="1.2"/>
<line x1="375.5" y1="766" x2="683.9" y2="766" stroke="#dfe4ec" stroke-width="1"/>
<line x1="375.5" y1="801.5" x2="683.9" y2="801.5" stroke="#dfe4ec" stroke-width="1"/>
<line x1="375.5" y1="836.5" x2="683.9" y2="836.5" stroke="#dfe4ec" stroke-width="1"/>
<line x1="513.3" y1="699" x2="513.3" y2="730.4" stroke="#d2d9e3" stroke-width="1"/>
<line x1="593.4" y1="699" x2="593.4" y2="730.4" stroke="#d2d9e3" stroke-width="1"/>
<text x="386.3" y="720.4" font-size="15.8" font-weight="bold" fill="#16285a" textLength="30.8" lengthAdjust="spacingAndGlyphs">Item</text>
<text x="522" y="720.4" font-size="15.8" font-weight="bold" fill="#16285a" textLength="38.3" lengthAdjust="spacingAndGlyphs">Stock</text>
<text x="601" y="720.4" font-size="15.8" font-weight="bold" fill="#16285a" textLength="43.7" lengthAdjust="spacingAndGlyphs">Status</text>
<text x="387.6" y="753.2" font-size="16.8" fill="#1c2a4c" textLength="51" lengthAdjust="spacingAndGlyphs" stroke="#1c2a4c" stroke-width="0.3">Laptops</text>
<text x="521.5" y="753.2" font-size="19" font-weight="bold" fill="#16285a" textLength="17.6" lengthAdjust="spacingAndGlyphs">15</text>
<text x="544" y="753.2" font-size="14.5" fill="#1c2a4c" textLength="31" lengthAdjust="spacingAndGlyphs" stroke="#1c2a4c" stroke-width="0.3">In w..</text>
<rect x="599.3" y="737.6" width="67.7" height="22.399999999999977" rx="2.5" fill="#4cb050"/>
<text x="633.15" y="753.7" font-size="13.6" font-weight="bold" text-anchor="middle" fill="#ffffff" textLength="53.7" lengthAdjust="spacingAndGlyphs">In Stock</text>
<text x="387.6" y="788.1" font-size="16.8" fill="#1c2a4c" textLength="85.1" lengthAdjust="spacingAndGlyphs" stroke="#1c2a4c" stroke-width="0.3">Office Chairs</text>
<text x="521.5" y="788.1" font-size="19" font-weight="bold" fill="#16285a" textLength="9.4" lengthAdjust="spacingAndGlyphs">4</text>
<text x="535.3" y="788.1" font-size="14.5" fill="#1c2a4c" textLength="24.7" lengthAdjust="spacingAndGlyphs" stroke="#1c2a4c" stroke-width="0.3">Low</text>
<rect x="599.3" y="772.5" width="75.7" height="22.899999999999977" rx="2.5" fill="#e4262c"/>
<text x="637.15" y="789.1" font-size="13.6" font-weight="bold" text-anchor="middle" fill="#ffffff" textLength="61.7" lengthAdjust="spacingAndGlyphs">Nom Stock</text>
<text x="387.6" y="823.8" font-size="16.8" fill="#1c2a4c" textLength="50.2" lengthAdjust="spacingAndGlyphs" stroke="#1c2a4c" stroke-width="0.3">Printers</text>
<text x="521.5" y="823.8" font-size="19" font-weight="bold" fill="#16285a" textLength="9.5" lengthAdjust="spacingAndGlyphs">2</text>
<text x="535.3" y="823.8" font-size="14.5" fill="#e82630" textLength="52.4" lengthAdjust="spacingAndGlyphs" stroke="#e82630" stroke-width="0.3">Out Stcck</text>
<rect x="599.3" y="808.2" width="75.7" height="22.799999999999955" rx="2.5" fill="#c9534e"/>
<text x="637.15" y="824.7" font-size="13.6" font-weight="bold" text-anchor="middle" fill="#ffffff" textLength="61.7" lengthAdjust="spacingAndGlyphs">Nom Stock</text>
<text x="387.6" y="859.3" font-size="16.8" fill="#1c2a4c" textLength="78.7" lengthAdjust="spacingAndGlyphs" stroke="#1c2a4c" stroke-width="0.3">Desk Lamps</text>
<text x="521.5" y="859.3" font-size="19" font-weight="bold" fill="#16285a" textLength="9.4" lengthAdjust="spacingAndGlyphs">8</text>
<text x="535.3" y="859.3" font-size="14.5" fill="#1c2a4c" textLength="35" lengthAdjust="spacingAndGlyphs" stroke="#1c2a4c" stroke-width="0.3">In vo..</text>
<rect x="599.3" y="844" width="67.7" height="22" rx="2.5" fill="#4cb050"/>
<text x="633.15" y="859.7" font-size="13.6" font-weight="bold" text-anchor="middle" fill="#ffffff" textLength="53.7" lengthAdjust="spacingAndGlyphs">In Stock</text>
<line x1="702" y1="648" x2="702" y2="712" stroke="#f0f2f6" stroke-width="1.2"/>
<rect x="709.3" y="657" width="2.2" height="44" fill="#b4bdca" filter="url(#fBlur05)"/>
<text x="713.6" y="676.6" font-size="21" font-weight="bold" fill="#16285a" textLength="67.2" lengthAdjust="spacingAndGlyphs">Project</text>
<text x="713.6" y="698.7" font-size="21" font-weight="bold" fill="#16285a" textLength="86.5" lengthAdjust="spacingAndGlyphs">Activities</text>
<line x1="710" y1="710.2" x2="960.7" y2="710.2" stroke="#dde2ea" stroke-width="1.2"/>
<defs>
<linearGradient id="gP1" x1="0" y1="0" x2="1" y2="0"><stop offset="0" stop-color="#4a7fe0"/><stop offset="0.8" stop-color="#5a8eea"/><stop offset="1" stop-color="#4c82e2"/></linearGradient>
<linearGradient id="gP2" x1="0" y1="0" x2="1" y2="0"><stop offset="0" stop-color="#3a7cc4"/><stop offset="1" stop-color="#1d4d98"/></linearGradient>
<linearGradient id="gP3" x1="0" y1="0" x2="1" y2="0"><stop offset="0" stop-color="#2f6aa8"/><stop offset="1" stop-color="#1d4688"/></linearGradient>
</defs>
<rect x="715" y="723.1" width="20.1" height="15.9" rx="1.5" fill="#1a5cb0"/>
<path d="M719.5 730.5 l3.5 3.5 l7.5 -7.5" fill="none" stroke="#fff" stroke-width="2"/>
<text x="745" y="737" font-size="16.2" fill="#1c2a4c" textLength="117.4" lengthAdjust="spacingAndGlyphs" stroke="#1c2a4c" stroke-width="0.3">Website Redesign</text>
<rect x="895.5" y="745.7" width="60.5" height="21.5" rx="5" fill="#e6edf8" stroke="#cfdaea" stroke-width="1"/>
<rect x="709.6" y="747.8" width="185.9" height="17.5" fill="url(#gP1)"/>
<text x="906.2" y="761.8" font-size="14.5" fill="#3a5a8a" textLength="23.7" lengthAdjust="spacingAndGlyphs" stroke="#3a5a8a" stroke-width="0.3">65%</text>
<line x1="710" y1="777.4" x2="960.7" y2="777.4" stroke="#dde2ea" stroke-width="1.1"/>
<rect x="715" y="791.6" width="20.1" height="15.8" rx="1.5" fill="#1a66c8"/>
<path d="M719.5 799 l3.5 3.5 l7.5 -7.5" fill="none" stroke="#fff" stroke-width="2"/>
<text x="745" y="805" font-size="16.2" fill="#1c2a4c" textLength="134.9" lengthAdjust="spacingAndGlyphs" stroke="#1c2a4c" stroke-width="0.3">Marketing Campaign</text>
<rect x="907" y="813.5" width="49" height="20.5" rx="5" fill="#e6edf8" stroke="#cfdaea" stroke-width="1"/>
<rect x="709.6" y="815.5" width="197.4" height="16.9" fill="url(#gP2)"/>
<text x="916.2" y="829.7" font-size="14.5" fill="#16285a" textLength="25.5" lengthAdjust="spacingAndGlyphs" stroke="#16285a" stroke-width="0.3">80%</text>
<line x1="710" y1="844" x2="960.7" y2="844" stroke="#dde2ea" stroke-width="1.1"/>
<rect x="715" y="855.2" width="18.8" height="18.8" rx="1.5" fill="#3a9ee6"/>
<path d="M722.5 858.5 q3 4 2.5 13" fill="none" stroke="#fff" stroke-width="1.8"/>
<text x="745" y="870" font-size="16.2" fill="#1c2a4c" textLength="143" lengthAdjust="spacingAndGlyphs" stroke="#1c2a4c" stroke-width="0.3">Product Development</text>
<rect x="862" y="878" width="94" height="21" rx="5" fill="#e6edf8" stroke="#cfdaea" stroke-width="1"/>
<rect x="709.6" y="880" width="152.4" height="17" fill="url(#gP3)"/>
<text x="870.5" y="893.4" font-size="14.5" fill="#16285a" textLength="25" lengthAdjust="spacingAndGlyphs" stroke="#16285a" stroke-width="0.3">45%</text>
<text x="895.5" y="893.4" font-size="14.5" fill="#8a9ab4" textLength="51.5" lengthAdjust="spacingAndGlyphs" stroke="#8a9ab4" stroke-width="0.3">On Track</text>
<rect x="1006.8" y="852.4" width="32.8" height="72.60000000000002" fill="#c7d8e8" opacity="0.85"/>
<rect x="1039.6" y="874.3" width="33.4" height="50.700000000000045" fill="#cedde9" opacity="0.85"/>
<rect x="1083.4" y="918" width="30.6" height="7" fill="#cbdbea" opacity="0.85"/>
<rect x="1114" y="895.6" width="23.2" height="29.399999999999977" fill="#b8cde2" opacity="0.85"/>
<rect x="1128.5" y="903.3" width="22.5" height="21.700000000000045" fill="#bdd1e5" opacity="0.85"/>
<rect x="1151" y="881.4" width="32" height="43.60000000000002" fill="#cfdcea" opacity="0.85"/>
<rect x="1183" y="900.3" width="22.6" height="24.700000000000045" fill="#bcd0e4" opacity="0.85"/>
<rect x="1216" y="847" width="37" height="78" fill="#c6d7e7" opacity="0.85"/>
<rect x="1230" y="895.6" width="50.8" height="29.399999999999977" fill="#b7cce2" opacity="0.85"/>
<rect x="1222.8" y="899.7" width="60.2" height="25.299999999999955" fill="#dfe7f0" opacity="0.85"/>
<rect x="1283" y="901" width="17.5" height="24" fill="#c3d5e7" opacity="0.85"/>
<rect x="1300" y="861.4" width="32.7" height="63.60000000000002" fill="#c3d5e8" opacity="0.85"/>
<rect x="1359.5" y="857.3" width="32.5" height="67.70000000000005" fill="#bfd2e6" opacity="0.85"/>
<rect x="1300" y="888.8" width="33" height="36.200000000000045" fill="#afc6de" opacity="0.85"/>
<rect x="1333" y="888.8" width="27" height="36.200000000000045" fill="#bccfe3" opacity="0.85"/>
<rect x="1360" y="888.8" width="33" height="36.200000000000045" fill="#a4bfda" opacity="0.85"/>
</svg>
</svg>
</body></html>
